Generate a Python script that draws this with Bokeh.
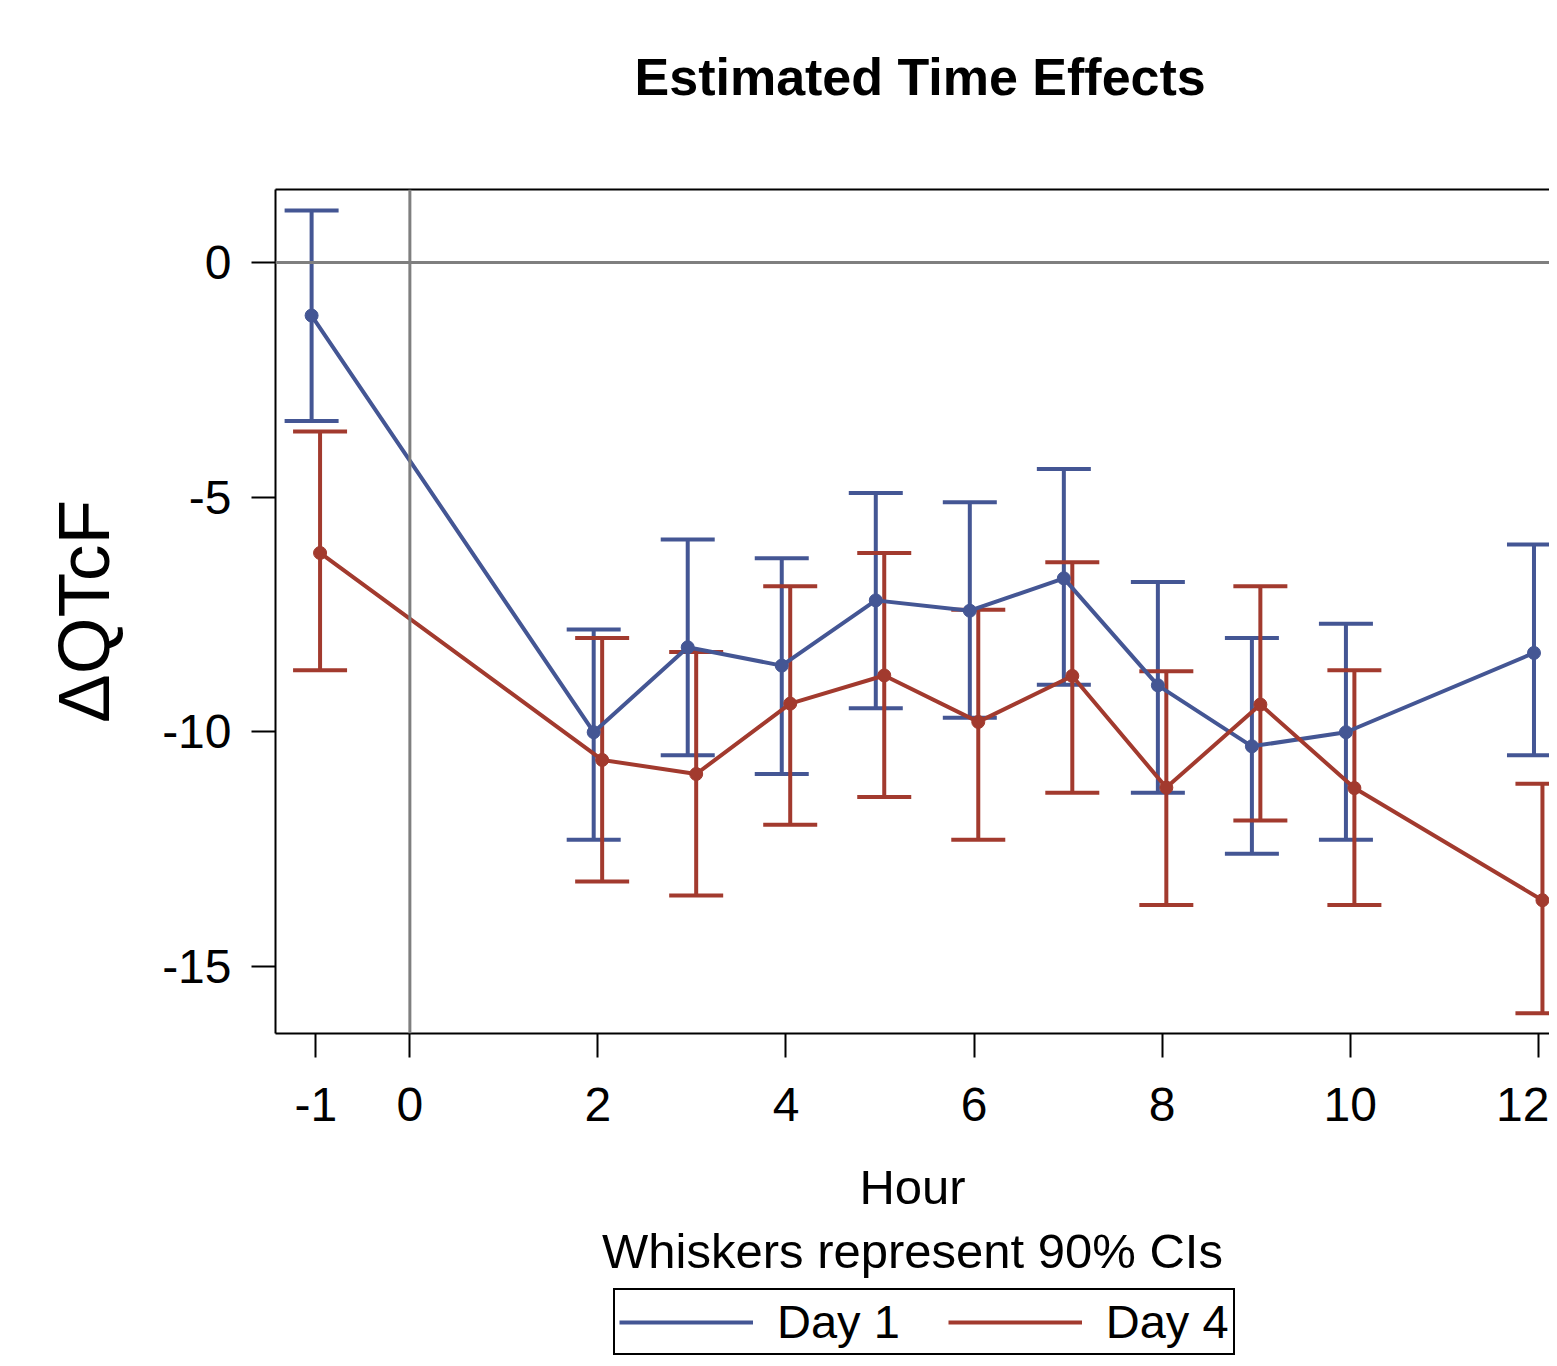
from bokeh.plotting import figure
from bokeh.layouts import column
from bokeh.models import (ColumnDataSource, Whisker, TeeHead, Span, FixedTicker,
                          LinearAxis, Legend, LegendItem, Range1d, PrintfTickFormatter, Label)
from bokeh.embed import file_html
from bokeh.resources import INLINE

# ---- data ----
hours = [-1, 2, 3, 4, 5, 6, 7, 8, 9, 10, 12]
day1_est = [-1.13, -10.01, -8.20, -8.59, -7.20, -7.42, -6.73, -9.01, -10.31, -10.01, -8.32]
day1_lo = [-3.38, -12.30, -10.50, -10.90, -9.50, -9.70, -9.00, -11.30, -12.60, -12.30, -10.50]
day1_hi = [1.11, -7.82, -5.90, -6.30, -4.91, -5.11, -4.40, -6.81, -8.00, -7.70, -6.01]
day4_est = [-6.19, -10.60, -10.90, -9.40, -8.80, -9.79, -8.81, -11.19, -9.42, -11.20, -13.59]
day4_lo = [-8.69, -13.19, -13.49, -11.98, -11.39, -12.30, -11.30, -13.69, -11.89, -13.69, -16.00]
day4_hi = [-3.60, -8.00, -8.30, -6.90, -6.19, -7.40, -6.39, -8.71, -6.90, -8.69, -11.11]
x_ticks = [-1, 0, 2, 4, 6, 8, 10, 12]
y_ticks = [0, -5, -10, -15]
series_names = ["Day 1", "Day 4"]
title_text = "Estimated Time Effects"

BLUE = "#445694"
RED = "#A23A2E"
FONT = "Liberation Sans"
dodge = 0.045

# ---- title strip ----
pt = figure(width=1549, height=120, output_backend="svg", toolbar_location=None,
            x_range=Range1d(0, 1), y_range=Range1d(0, 1), min_border=0,
            x_axis_location=None, y_axis_location=None)
pt.outline_line_color = None
pt.xgrid.visible = False
pt.ygrid.visible = False
pt.add_layout(Label(x=0.506, y=0.36, text=title_text, text_align="center",
                    text_baseline="alphabetic", text_font=FONT, text_font_size="52px",
                    text_font_style="bold", text_color="black"))

# ---- main chart ----
p = figure(width=1549, height=1166, output_backend="svg", toolbar_location=None,
           x_range=Range1d(-1.429, 12.12), y_range=Range1d(-16.43, 1.556),
           min_border_left=275, min_border_right=0, min_border_top=69,
           min_border_bottom=253)
p.outline_line_color = None
p.xgrid.visible = False
p.ygrid.visible = False
p.background_fill_color = "white"
p.border_fill_color = "white"

# reference lines
p.add_layout(Span(location=0, dimension="width", line_color="#7f7f7f", line_width=3))
p.add_layout(Span(location=0, dimension="height", line_color="#7f7f7f", line_width=3))

for est, lo, hi, color, off in [(day1_est, day1_lo, day1_hi, BLUE, -dodge),
                                (day4_est, day4_lo, day4_hi, RED, dodge)]:
    src = ColumnDataSource(dict(x=[h + off for h in hours], est=est, lo=lo, hi=hi))
    w = Whisker(base="x", upper="hi", lower="lo", source=src, line_color=color, line_width=4,
                upper_head=TeeHead(size=54, line_color=color, line_width=4),
                lower_head=TeeHead(size=54, line_color=color, line_width=4))
    p.add_layout(w)
    p.line("x", "est", source=src, line_color=color, line_width=4)
    p.scatter("x", "est", source=src, size=13, color=color)

# axes
for ax in (p.xaxis[0], p.yaxis[0]):
    ax.major_label_text_font = FONT
    ax.major_label_text_font_size = "48px"
    ax.major_label_text_color = "black"
    ax.major_tick_out = 24
    ax.major_tick_in = 0
    ax.major_tick_line_width = 2
    ax.major_tick_line_color = "black"
    ax.minor_tick_line_color = None
    ax.axis_line_width = 2
    ax.axis_line_color = "black"
    ax.axis_label_text_font = FONT
    ax.axis_label_text_font_style = "normal"
    ax.axis_label_text_color = "black"
    ax.formatter = PrintfTickFormatter(format="%d")

p.xaxis.ticker = FixedTicker(ticks=x_ticks)
p.yaxis.ticker = FixedTicker(ticks=y_ticks)
p.xaxis.major_label_standoff = 30
p.yaxis.major_label_standoff = 20
p.xaxis.axis_label = "Hour\nWhiskers represent 90% CIs"
p.xaxis.axis_label_text_font_size = "49px"
p.xaxis.axis_label_standoff = 36
p.yaxis.axis_label = "ΔQTcF"
p.yaxis.axis_label_text_font_size = "73px"
p.yaxis.axis_label_standoff = 35

top_axis = LinearAxis(ticker=FixedTicker(ticks=[]), major_label_text_font_size="0px",
                      axis_line_width=2, axis_line_color="black",
                      major_tick_line_color=None, minor_tick_line_color=None)
p.add_layout(top_axis, "above")

# ---- legend strip ----
p2 = figure(width=1549, height=72, output_backend="svg", toolbar_location=None,
            x_range=Range1d(0, 1), y_range=Range1d(0, 1), min_border=0,
            x_axis_location=None, y_axis_location=None)
p2.outline_line_color = None
p2.xgrid.visible = False
p2.ygrid.visible = False
offscreen = ColumnDataSource(dict(x=[5, 6], y=[5, 6]))
l1 = p2.line("x", "y", source=offscreen, line_color=BLUE, line_width=4)
l4 = p2.line("x", "y", source=offscreen, line_color=RED, line_width=4)
legend = Legend(items=[LegendItem(label=series_names[0], renderers=[l1]),
                       LegendItem(label=series_names[1], renderers=[l4])],
                orientation="horizontal", location=(338, 3),
                border_line_color="black", border_line_width=2, border_line_alpha=1,
                padding=4, spacing=48, label_standoff=24, glyph_width=134,
                glyph_height=40, label_text_font=FONT, label_text_font_size="47px",
                label_text_color="black", margin=0, background_fill_alpha=1)
p2.add_layout(legend)

layout = column(pt, p, p2, spacing=0)
open("out.html", "w").write(file_html(layout, INLINE))
